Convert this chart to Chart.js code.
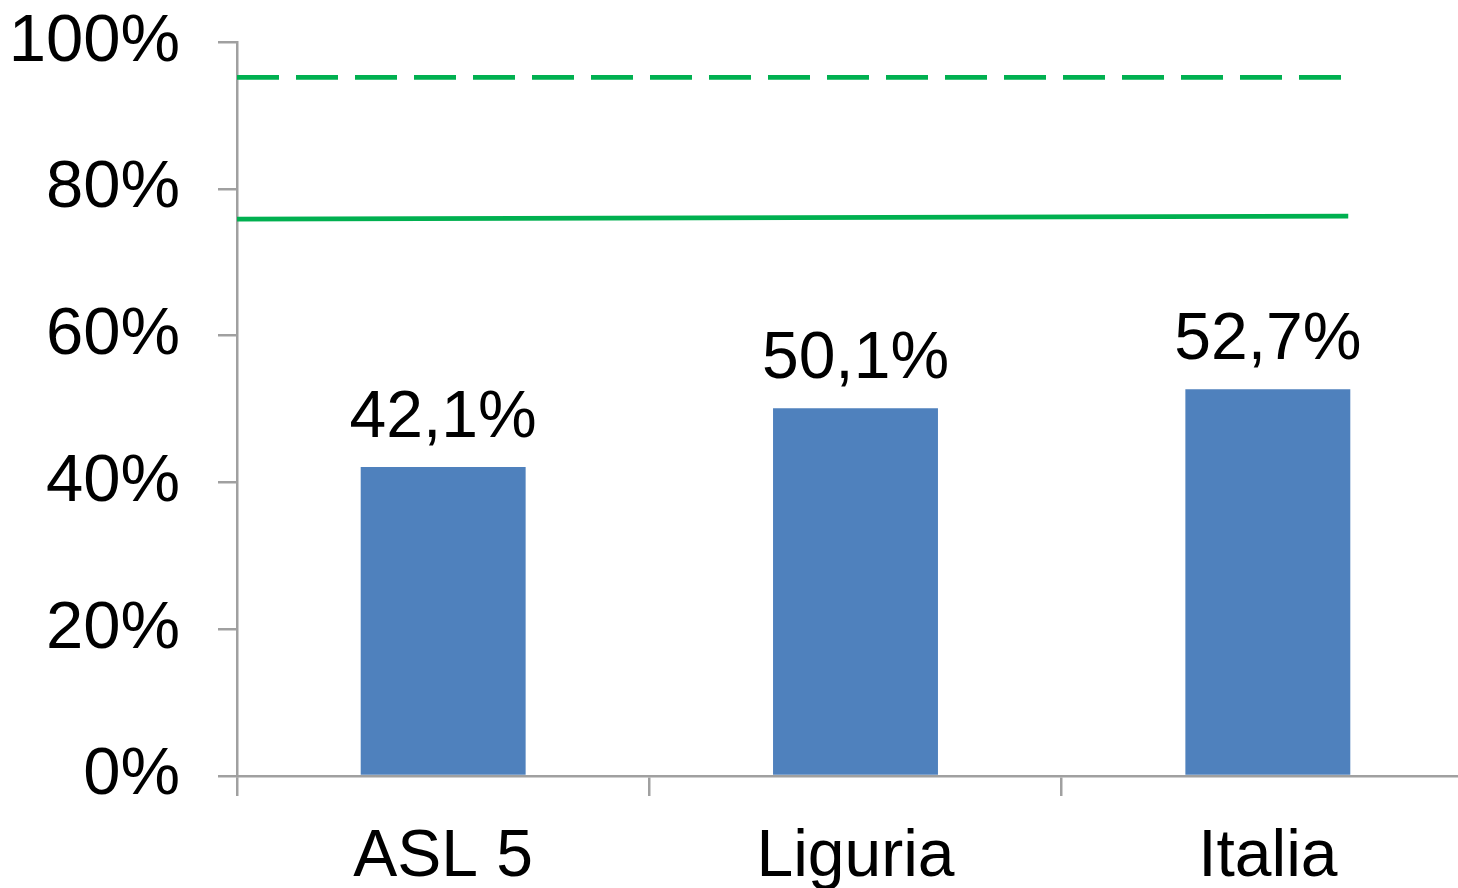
<!DOCTYPE html>
<html>
<head>
<meta charset="utf-8">
<script src="https://cdn.jsdelivr.net/npm/chart.js@4"></script>
<style>
  html, body { margin: 0; padding: 0; background: #fff; overflow: hidden; }
  #wrap { position: absolute; left: 0; top: -36px; width: 1474px; height: 966px; }
</style>
</head>
<body>
<div id="wrap"><canvas id="chart"></canvas></div>
<script>
// Data
const categories = ['ASL 5', 'Liguria', 'Italia'];
const barValues = [42.1, 50.1, 52.7];
const solidLine = [{ x: 0, y: 75.9 }, { x: 2.695, y: 76.3 }];
const dashedLine = [{ x: 0, y: 95.2 }, { x: 2.702, y: 95.2 }];
const yTicks = [0, 20, 40, 60, 80, 100];

const axisGray = '#a0a0a0';
const font = 'Liberation Sans, Arial, sans-serif';

// draws the value above each bar
const barLabels = {
    id: 'barLabels',
    afterDatasetsDraw(chart) {
        const ctx = chart.ctx;
        const meta = chart.getDatasetMeta(0);
        ctx.save();
        ctx.font = '66px ' + font;
        ctx.fillStyle = '#000';
        ctx.textAlign = 'center';
        ctx.textBaseline = 'alphabetic';
        meta.data.forEach((bar, i) => {
            const txt = barValues[i].toFixed(1).replace('.', ',') + '%';
            ctx.fillText(txt, bar.x, bar.y - 30);
        });
        ctx.restore();
    }
};

const ctx = document.getElementById('chart').getContext('2d');
const chart = new Chart(ctx, {
    type: 'bar',
    data: {
        labels: categories,
        datasets: [{
            type: 'bar',
            data: barValues,
            backgroundColor: '#4f81bd',
            grouped: false,
            barPercentage: 0.8,
            categoryPercentage: 0.5,
            order: 2
        }, {
            type: 'line',
            data: solidLine,
            xAxisID: 'x2',
            borderColor: '#00b050',
            borderWidth: 4.8,
            pointRadius: 0,
            fill: false,
            order: 1
        }, {
            type: 'line',
            data: dashedLine,
            xAxisID: 'x2',
            borderColor: '#00b050',
            borderWidth: 4.8,
            borderDash: [42, 17],
            pointRadius: 0,
            fill: false,
            order: 1
        }]
    },
    options: {
        responsive: true,
        maintainAspectRatio: false,
        devicePixelRatio: 1,
        animation: false,
        layout: { padding: { top: 10, left: 0, right: 0, bottom: 0 } },
        plugins: {
            legend: { display: false },
            tooltip: { enabled: false }
        },
        scales: {
            x: {
                grid: {
                    offset: true,
                    drawOnChartArea: false,
                    drawTicks: true,
                    tickLength: 20,
                    color: axisGray,
                    lineWidth: 2.5
                },
                border: { color: axisGray, width: 2.5 },
                ticks: {
                    color: '#000',
                    font: { family: font, size: 66 },
                    padding: 22,
                    maxRotation: 0
                },
                afterFit(scale) { scale.height = 154; }
            },
            x2: {
                type: 'linear',
                display: false,
                offset: false,
                grid: { offset: false },
                min: 0,
                max: 3
            },
            y: {
                min: 0,
                max: 100,
                afterBuildTicks(scale) { scale.ticks = yTicks.map(v => ({ value: v })); },
                grid: {
                    drawOnChartArea: false,
                    drawTicks: true,
                    tickLength: 19,
                    color: axisGray,
                    lineWidth: 2.5
                },
                border: { color: axisGray, width: 2.5 },
                ticks: {
                    color: '#000',
                    font: { family: font, size: 67 },
                    padding: 38,
                    callback: v => v + '%'
                },
                afterFit(scale) { scale.width = 237; }
            }
        }
    },
    plugins: [barLabels]
});
</script>
</body>
</html>
